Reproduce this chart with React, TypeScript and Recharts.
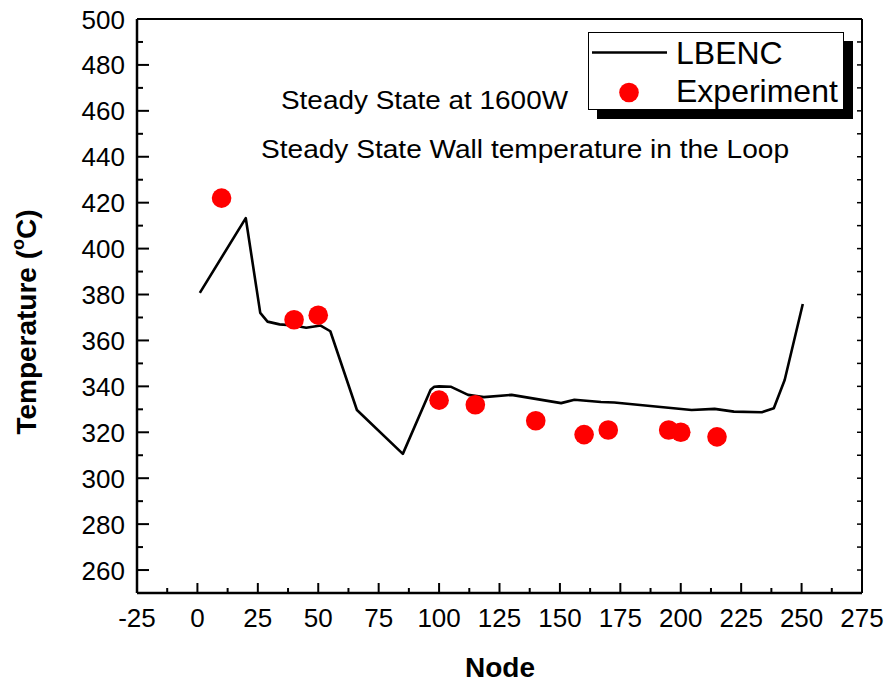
import React from "react";
import {
  ComposedChart,
  Line,
  Scatter,
  XAxis,
  YAxis,
  Legend,
  Customized,
} from "recharts";

// LBENC simulation, wall temperature along the loop
const lbencNodes = [
  1, 20, 26, 29, 34, 40, 45, 51, 55, 66, 85, 96.5, 98, 100, 105, 112, 118.5,
  130, 150.5, 156, 167, 172.5, 204.5, 214, 222, 233.5, 238.5, 243, 250.5,
];
const lbencTemps = [
  380.7, 413.3, 372, 368.2, 367, 366.5, 365.5, 366.5, 364, 329.7, 310.6, 338.5,
  339.8, 340, 339.8, 336.3, 335.3, 336.3, 332.7, 334.2, 333.2, 333, 329.7,
  330.2, 329, 328.7, 330.5, 342.8, 375.9,
];

// measured wall temperatures
const expNodes = [10, 40, 50, 100, 115, 140, 160, 170, 195, 200, 215];
const expTemps = [422, 369, 371, 334, 332, 325, 319, 321, 321, 320, 318];

const xMajorTicks = [-25, 0, 25, 50, 75, 100, 125, 150, 175, 200, 225, 250, 275];
const yMajorTicks = [260, 280, 300, 320, 340, 360, 380, 400, 420, 440, 460, 480, 500];

const lbencData = lbencNodes.map((node, i) => ({ node, temp: lbencTemps[i] }));
const expData = expNodes.map((node, i) => ({ node, temp: expTemps[i] }));

// majors plus a minor tick halfway between each pair
const xTicks = xMajorTicks.flatMap((t, i) =>
  i < xMajorTicks.length - 1 ? [t, t + 12.5] : [t]
);
const yTicks = yMajorTicks.flatMap((t) => [t - 10, t]);

const FONT = "'Liberation Sans', Arial, Helvetica, sans-serif";

const BottomTick = ({ x, y, payload }: any) => {
  const major = xMajorTicks.includes(payload.value);
  return (
    <g>
      <line x1={x} y1={y} x2={x} y2={y - (major ? 10 : 5)} stroke="#000" strokeWidth={2} />
      {major && (
        <text x={x} y={y + 34} textAnchor="middle" fontSize={26} fill="#000" fontFamily={FONT}>
          {payload.value}
        </text>
      )}
    </g>
  );
};

const LeftTick = ({ x, y, payload }: any) => {
  const major = yMajorTicks.includes(payload.value);
  return (
    <g>
      <line x1={x} y1={y} x2={x + (major ? 12 : 6)} y2={y} stroke="#000" strokeWidth={2} />
      {major && (
        <text x={x - 12} y={y + 9.5} textAnchor="end" fontSize={26} fill="#000" fontFamily={FONT}>
          {payload.value}
        </text>
      )}
    </g>
  );
};

const TopTick = ({ x, y }: any) => (
  <line x1={x} y1={y} x2={x} y2={y + 5} stroke="#000" strokeWidth={1.5} />
);

const RightTick = ({ x, y }: any) => (
  <line x1={x} y1={y} x2={x - 5} y2={y} stroke="#000" strokeWidth={1.5} />
);

const RedDot = ({ cx, cy }: any) => <circle cx={cx} cy={cy} r={9.8} fill="#ff0000" />;

const LegendBox = () => (
  <svg width={266} height={88} style={{ display: "block" }}>
    <rect x={9} y={9} width={256} height={78} fill="#000" />
    <rect x={0.5} y={0.5} width={255} height={77} fill="#fff" stroke="#000" strokeWidth={1} />
    <line x1={4} y1={20.5} x2={79} y2={20.5} stroke="#000" strokeWidth={2.6} />
    <text x={88} y={31.5} fontSize={32} fontFamily={FONT} fill="#000">
      LBENC
    </text>
    <circle cx={41} cy={60.5} r={9.8} fill="#ff0000" />
    <text x={88} y={70} fontSize={32} fontFamily={FONT} fill="#000">
      Experiment
    </text>
  </svg>
);

const Annotations = () => (
  <g fontFamily={FONT} fill="#000">
    <text x={281} y={109} fontSize={25} textLength={287} lengthAdjust="spacingAndGlyphs">
      Steady State at 1600W
    </text>
    <text x={261} y={158} fontSize={25} textLength={528} lengthAdjust="spacingAndGlyphs">
      Steady State Wall temperature in the Loop
    </text>
    <text x={500} y={677} fontSize={28} fontWeight="bold" textAnchor="middle">
      Node
    </text>
    <text
      transform="translate(36, 322) rotate(-90)"
      fontSize={28}
      fontWeight="bold"
      textAnchor="middle"
    >
      Temperature (
      <tspan fontSize={18} dy={-12}>o</tspan>
      <tspan dy={12}>C)</tspan>
    </text>
  </g>
);

export default function App() {
  return (
    <div
      style={{
        position: "absolute",
        left: 0,
        top: 0,
        width: 887,
        height: 683,
        background: "#fff",
        fontFamily: FONT,
      }}
    >
      <ComposedChart
        width={887}
        height={683}
        margin={{ top: 18, right: 24, bottom: 89, left: 136 }}
      >
        <XAxis
          xAxisId="bottom"
          dataKey="node"
          type="number"
          domain={[-25, 275]}
          ticks={xTicks}
          interval={0}
          height={1}
          tickSize={0}
          tickMargin={0}
          tickLine={false}
          axisLine={{ stroke: "#000", strokeWidth: 2.5 }}
          tick={<BottomTick />}
          allowDataOverflow
        />
        <XAxis
          xAxisId="top"
          orientation="top"
          type="number"
          domain={[-25, 275]}
          ticks={xTicks}
          interval={0}
          height={1}
          tickSize={0}
          tickMargin={0}
          tickLine={false}
          axisLine={{ stroke: "#000", strokeWidth: 2 }}
          tick={<TopTick />}
          allowDataOverflow
        />
        <YAxis
          yAxisId="left"
          dataKey="temp"
          type="number"
          domain={[250, 500]}
          ticks={yTicks}
          interval={0}
          width={1}
          tickSize={0}
          tickMargin={0}
          tickLine={false}
          axisLine={{ stroke: "#000", strokeWidth: 2.5 }}
          tick={<LeftTick />}
          allowDataOverflow
        />
        <YAxis
          yAxisId="right"
          orientation="right"
          type="number"
          domain={[250, 500]}
          ticks={yTicks}
          interval={0}
          width={1}
          tickSize={0}
          tickMargin={0}
          tickLine={false}
          axisLine={{ stroke: "#000", strokeWidth: 2 }}
          tick={<RightTick />}
          allowDataOverflow
        />
        <Line
          xAxisId="bottom"
          yAxisId="left"
          name="LBENC"
          data={lbencData}
          dataKey="temp"
          type="linear"
          stroke="#000"
          strokeWidth={2.6}
          strokeLinejoin="round"
          dot={false}
          activeDot={false}
          isAnimationActive={false}
        />
        <Scatter
          xAxisId="bottom"
          yAxisId="left"
          name="Experiment"
          data={expData}
          dataKey="temp"
          fill="#ff0000"
          shape={RedDot}
          isAnimationActive={false}
        />
        <Legend
          layout="vertical"
          align="center"
          verticalAlign="middle"
          wrapperStyle={{ left: 588, top: 32, width: 266, height: 88 }}
          content={LegendBox}
        />
        <Customized component={Annotations} />
      </ComposedChart>
    </div>
  );
}
